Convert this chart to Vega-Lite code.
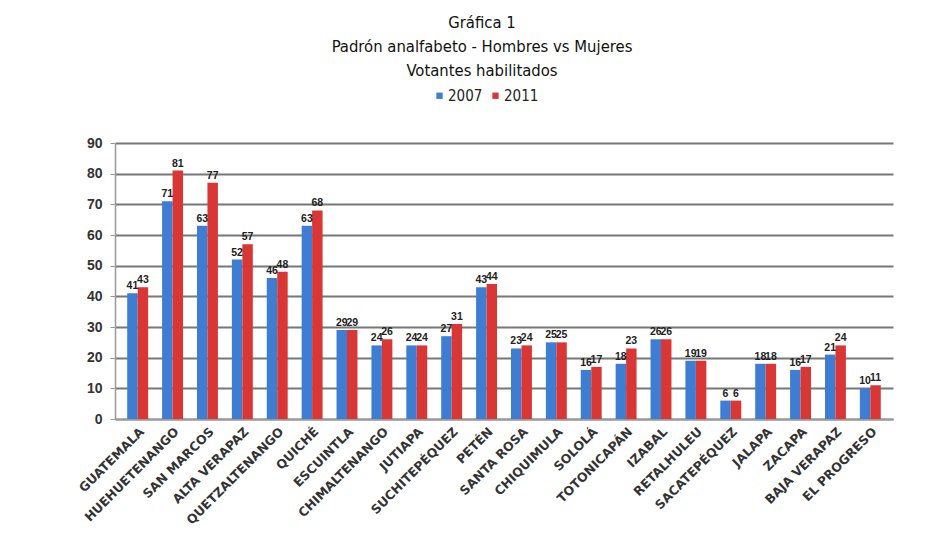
{
  "$schema": "https://vega.github.io/schema/vega-lite/v6.json",
  "autosize": {"type": "none"},
  "padding": {"left": 115, "top": 143, "right": 45, "bottom": 120},
  "width": 778,
  "height": 276,
  "background": "white",
  "title": {
    "text": ["Gráfica 1", "Padrón analfabeto - Hombres vs Mujeres", "Votantes habilitados"],
    "anchor": "middle",
    "frame": "group",
    "dx": -22,
    "offset": 9,
    "font": "DejaVu Sans Condensed, sans-serif",
    "fontSize": 16.5,
    "fontWeight": "normal",
    "lineHeight": 24,
    "color": "#111"
  },
  "data": {
    "values": [
      {"dep": "GUATEMALA", "year": "2007", "value": 41}, {"dep": "GUATEMALA", "year": "2011", "value": 43},
      {"dep": "HUEHUETENANGO", "year": "2007", "value": 71}, {"dep": "HUEHUETENANGO", "year": "2011", "value": 81},
      {"dep": "SAN MARCOS", "year": "2007", "value": 63}, {"dep": "SAN MARCOS", "year": "2011", "value": 77},
      {"dep": "ALTA VERAPAZ", "year": "2007", "value": 52}, {"dep": "ALTA VERAPAZ", "year": "2011", "value": 57},
      {"dep": "QUETZALTENANGO", "year": "2007", "value": 46}, {"dep": "QUETZALTENANGO", "year": "2011", "value": 48},
      {"dep": "QUICHÉ", "year": "2007", "value": 63}, {"dep": "QUICHÉ", "year": "2011", "value": 68},
      {"dep": "ESCUINTLA", "year": "2007", "value": 29}, {"dep": "ESCUINTLA", "year": "2011", "value": 29},
      {"dep": "CHIMALTENANGO", "year": "2007", "value": 24}, {"dep": "CHIMALTENANGO", "year": "2011", "value": 26},
      {"dep": "JUTIAPA", "year": "2007", "value": 24}, {"dep": "JUTIAPA", "year": "2011", "value": 24},
      {"dep": "SUCHITEPÉQUEZ", "year": "2007", "value": 27}, {"dep": "SUCHITEPÉQUEZ", "year": "2011", "value": 31},
      {"dep": "PETÉN", "year": "2007", "value": 43}, {"dep": "PETÉN", "year": "2011", "value": 44},
      {"dep": "SANTA ROSA", "year": "2007", "value": 23}, {"dep": "SANTA ROSA", "year": "2011", "value": 24},
      {"dep": "CHIQUIMULA", "year": "2007", "value": 25}, {"dep": "CHIQUIMULA", "year": "2011", "value": 25},
      {"dep": "SOLOLÁ", "year": "2007", "value": 16}, {"dep": "SOLOLÁ", "year": "2011", "value": 17},
      {"dep": "TOTONICAPÁN", "year": "2007", "value": 18}, {"dep": "TOTONICAPÁN", "year": "2011", "value": 23},
      {"dep": "IZABAL", "year": "2007", "value": 26}, {"dep": "IZABAL", "year": "2011", "value": 26},
      {"dep": "RETALHULEU", "year": "2007", "value": 19}, {"dep": "RETALHULEU", "year": "2011", "value": 19},
      {"dep": "SACATEPÉQUEZ", "year": "2007", "value": 6}, {"dep": "SACATEPÉQUEZ", "year": "2011", "value": 6},
      {"dep": "JALAPA", "year": "2007", "value": 18}, {"dep": "JALAPA", "year": "2011", "value": 18},
      {"dep": "ZACAPA", "year": "2007", "value": 16}, {"dep": "ZACAPA", "year": "2011", "value": 17},
      {"dep": "BAJA VERAPAZ", "year": "2007", "value": 21}, {"dep": "BAJA VERAPAZ", "year": "2011", "value": 24},
      {"dep": "EL PROGRESO", "year": "2007", "value": 10}, {"dep": "EL PROGRESO", "year": "2011", "value": 11}
    ]
  },
  "encoding": {
    "x": {
      "field": "dep", "type": "nominal", "sort": null, "title": null,
      "scale": {"paddingInner": 0.4, "paddingOuter": 0.35},
      "axis": {
        "labelAngle": -45, "labelFont": "DejaVu Sans", "labelFontWeight": "bold",
        "labelFontSize": 12.5, "labelColor": "#333", "ticks": false, "domain": true,
        "domainColor": "#999", "domainWidth": 1.5, "labelPadding": 6
      }
    },
    "y": {
      "field": "value", "type": "quantitative", "title": null,
      "scale": {"domain": [0, 90], "nice": false},
      "axis": {
        "values": [0, 10, 20, 30, 40, 50, 60, 70, 80, 90],
        "labelFont": "Liberation Sans", "labelFontWeight": "bold", "labelFontSize": 14,
        "labelColor": "#333", "grid": true, "gridColor": "#777", "gridWidth": 2,
        "domainColor": "#999", "domainWidth": 1.5, "tickColor": "#999", "tickSize": 5,
        "labelPadding": 8
      }
    },
    "xOffset": {"field": "year", "type": "nominal"}
  },
  "layer": [
    {
      "mark": {"type": "bar"},
      "encoding": {
        "color": {
          "field": "year", "type": "nominal", "title": null,
          "scale": {"domain": ["2007", "2011"], "range": ["#3f7dd2", "#d93636"]},
          "legend": {
            "orient": "none", "legendX": 317, "legendY": -55, "direction": "horizontal",
            "symbolType": "square", "symbolSize": 40, "labelFont": "DejaVu Sans Condensed, sans-serif",
            "labelFontSize": 15, "labelColor": "#222", "columnPadding": 5, "symbolOffset": 0, "labelOffset": 1
          }
        }
      }
    },
    {
      "mark": {"type": "text", "dy": -7, "fontSize": 10.5, "fontWeight": "bold", "font": "Liberation Sans", "color": "#222"},
      "encoding": {"text": {"field": "value", "type": "quantitative"}}
    }
  ],
  "config": {"view": {"stroke": null}}
}
